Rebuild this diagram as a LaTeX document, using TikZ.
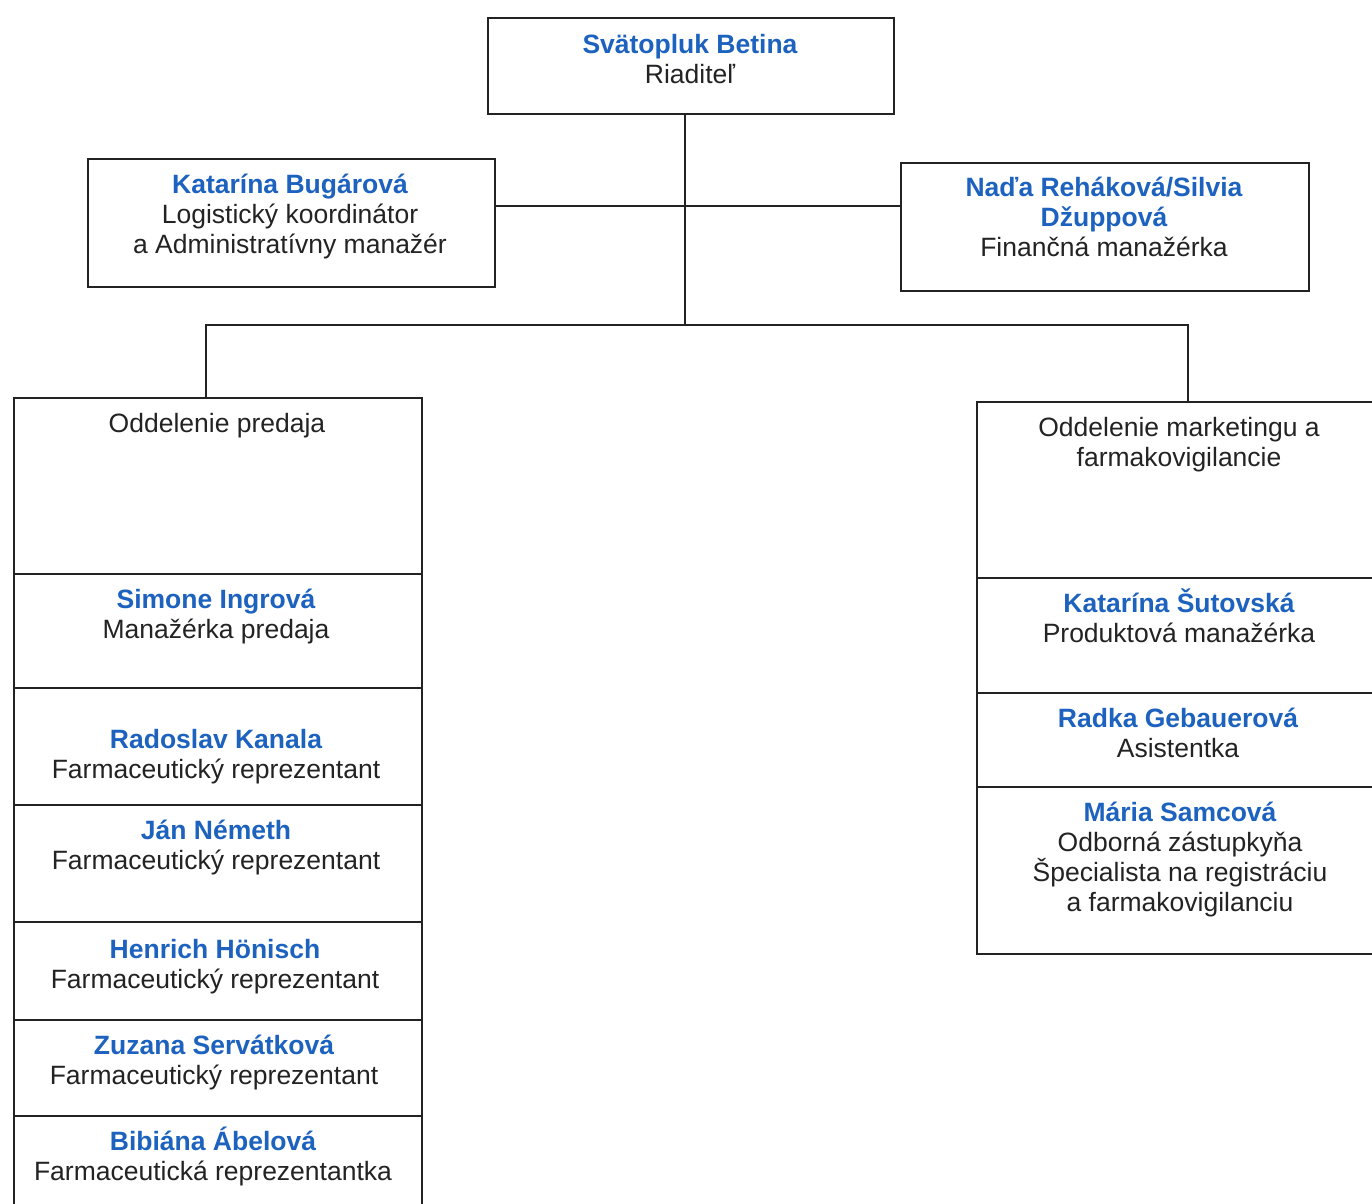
\documentclass[tikz,border=0pt]{standalone}
\usepackage{fontspec}
\setmainfont{Liberation Sans}
\definecolor{nameblue}{RGB}{28,98,190}
\definecolor{ink}{RGB}{35,35,35}
\newcommand\nm[1]{{\color{nameblue}\bfseries #1}}
\newcommand\tb[1]{\begin{tabular}{@{}c@{}}#1\end{tabular}}
\begin{document}
\begin{tikzpicture}[x=1pt,y=-1pt,
  box/.style={draw=ink, line width=1.6pt, rectangle, inner sep=0pt, anchor=north west},
  lbl/.style={inner sep=0pt, yshift=-3pt, font=\fontsize{26.5}{30}\selectfont, text=ink},
  conn/.style={draw=ink, line width=1.6pt}]
\useasboundingbox (0,0) rectangle (1372,1203);
\clip (0,0) rectangle (1372,1203);
\fill[white] (0,0) rectangle (1372,1203);
% boxes
\node[box, minimum width=406pt, minimum height=96pt] (ceo) at (487,17) {};
\node[box, minimum width=407pt, minimum height=128pt] (log) at (87,158) {};
\node[box, minimum width=408pt, minimum height=128pt] (fin) at (900,162) {};
\node[box, minimum width=408pt, minimum height=176pt] (s0) at (13,397) {};
\node[box, minimum width=408pt, minimum height=114pt] (s1) at (13,573) {};
\node[box, minimum width=408pt, minimum height=117pt] (s2) at (13,687) {};
\node[box, minimum width=408pt, minimum height=117pt] (s3) at (13,804) {};
\node[box, minimum width=408pt, minimum height=98pt] (s4) at (13,921) {};
\node[box, minimum width=408pt, minimum height=96pt] (s5) at (13,1019) {};
\node[box, minimum width=408pt, minimum height=100pt] (s6) at (13,1115) {};
\node[box, minimum width=408pt, minimum height=176pt] (m0) at (976,401) {};
\node[box, minimum width=408pt, minimum height=115pt] (m1) at (976,577) {};
\node[box, minimum width=408pt, minimum height=94pt] (m2) at (976,692) {};
\node[box, minimum width=408pt, minimum height=167pt] (m3) at (976,786) {};
% texts
\node[lbl] (tceo) at (690,59.5) {\tb{\nm{Svätopluk Betina}\\ Riaditeľ}};
\node[lbl] (tlog) at (290,214.5) {\tb{\nm{Katarína Bugárová}\\ Logistický koordinátor\\ a Administratívny manažér}};
\node[lbl] (tfin) at (1104,217.5) {\tb{\nm{Naďa Reháková/Silvia}\\ \nm{Džuppová}\\ Finančná manažérka}};
\node[lbl] (ts0) at (217,423) {\tb{Oddelenie predaja}};
\node[lbl] (ts1) at (216,614) {\tb{\nm{Simone Ingrová}\\ Manažérka predaja}};
\node[lbl] (ts2) at (216,754) {\tb{\nm{Radoslav Kanala}\\ Farmaceutický reprezentant}};
\node[lbl] (ts3) at (216,845) {\tb{\nm{Ján Németh}\\ Farmaceutický reprezentant}};
\node[lbl] (ts4) at (215,964) {\tb{\nm{Henrich Hönisch}\\ Farmaceutický reprezentant}};
\node[lbl] (ts5) at (214,1060.5) {\tb{\nm{Zuzana Servátková}\\ Farmaceutický reprezentant}};
\node[lbl] (ts6) at (213,1156.5) {\tb{\smash{\nm{Bibiána Ábelová}}\\ Farmaceutická reprezentantka}};
\node[lbl] (tm0) at (1179,442.5) {\tb{Oddelenie marketingu a\\ farmakovigilancie}};
\node[lbl] (tm1) at (1179,618.5) {\tb{\smash{\nm{Katarína Šutovská}}\\ Produktová manažérka}};
\node[lbl] (tm2) at (1178,733.5) {\tb{\nm{Radka Gebauerová}\\ Asistentka}};
\node[lbl] (tm3) at (1180,857) {\tb{\nm{Mária Samcová}\\ Odborná zástupkyňa\\ \smash{Špecialista na registráciu}\\ a farmakovigilanciu}};
% connectors
\coordinate (jtop) at (685,206);
\coordinate (jmid) at (685,325);
\coordinate (bl) at (206,325);
\coordinate (br) at (1188,325);
\draw[conn] (ceo.south -| jtop) -- (jmid);
\draw[conn] (log.east |- jtop) -- (fin.west |- jtop);
\draw[conn] (bl |- s0.north) -- (bl) -- (br) -- (br |- m0.north);
\end{tikzpicture}
\end{document}
